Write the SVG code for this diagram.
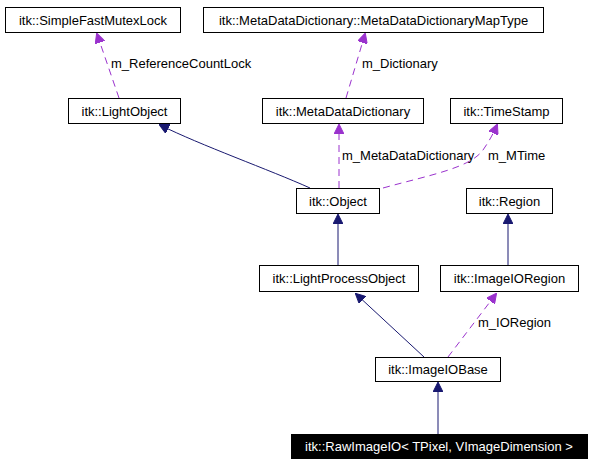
<svg xmlns="http://www.w3.org/2000/svg" width="591" height="464" viewBox="0 0 591 464">
<style>
.box{fill:#fff;stroke:#000;stroke-width:1}
.t{font-family:"Liberation Sans",Arial,sans-serif;font-size:13px;fill:#000;text-anchor:middle}
.lbl{font-family:"Liberation Sans",Arial,sans-serif;font-size:13px;fill:#000}
.inh{fill:none;stroke:#191970;stroke-width:1}
.use{fill:none;stroke:#9a32cd;stroke-width:1;stroke-dasharray:7,5}
</style>
<defs>
<marker id="ah" markerWidth="10" markerHeight="10" refX="9" refY="5" orient="auto" markerUnits="userSpaceOnUse" viewBox="0 0 10 10"><path d="M0,0 L10,5 L0,10 z" fill="#191970" stroke="#191970"/></marker>
<marker id="ap" markerWidth="10" markerHeight="10" refX="9" refY="5" orient="auto" markerUnits="userSpaceOnUse" viewBox="0 0 10 10"><path d="M0,0 L10,5 L0,10 z" fill="#9a32cd" stroke="#9a32cd"/></marker>
</defs>
<rect width="591" height="464" fill="#fff"/>
<g id="connectors">
<path class="use" d="M119,98 L97,34" marker-end="url(#ap)"/>
<text class="lbl" x="111" y="68">m_ReferenceCountLock</text>
<path class="use" d="M346,98 L365,34" marker-end="url(#ap)"/>
<text class="lbl" x="362" y="68">m_Dictionary</text>
<path class="inh" d="M310,188 C270,170 200,145 160,125" marker-end="url(#ah)"/>
<path class="use" d="M339,188 L339,125" marker-end="url(#ap)"/>
<text class="lbl" x="342" y="160">m_MetaDataDictionary</text>
<path class="use" d="M383,188 C430,175 470,168 483,150 C490,140 494,132 497,125" marker-end="url(#ap)"/>
<text class="lbl" x="488" y="160">m_MTime</text>
<path class="inh" d="M338,265 L338,215" marker-end="url(#ah)"/>
<path class="inh" d="M508,265 L508,215" marker-end="url(#ah)"/>
<path class="inh" d="M424,357 L356,294" marker-end="url(#ah)"/>
<path class="use" d="M448,357 L496,294" marker-end="url(#ap)"/>
<text class="lbl" x="478" y="327">m_IORegion</text>
<path class="inh" d="M438,434 L438,383" marker-end="url(#ah)"/>
</g>
<g id="SimpleFastMutexLock"><rect class="box" x="5.5" y="7.5" width="175" height="25"/><text class="t" x="93" y="24.5">itk::SimpleFastMutexLock</text></g>
<g id="MetaDataDictionaryMapType"><rect class="box" x="203.5" y="7.5" width="340" height="25"/><text class="t" x="373.5" y="24.5">itk::MetaDataDictionary::MetaDataDictionaryMapType</text></g>
<g id="LightObject"><rect class="box" x="68.5" y="98.5" width="112" height="25"/><text class="t" x="124.5" y="115.5">itk::LightObject</text></g>
<g id="MetaDataDictionary"><rect class="box" x="262.5" y="98.5" width="161" height="25"/><text class="t" x="343" y="115.5">itk::MetaDataDictionary</text></g>
<g id="TimeStamp"><rect class="box" x="450.5" y="98.5" width="112" height="25"/><text class="t" x="506.5" y="115.5">itk::TimeStamp</text></g>
<g id="Object"><rect class="box" x="296.5" y="188.5" width="83" height="25"/><text class="t" x="338" y="205.5">itk::Object</text></g>
<g id="Region"><rect class="box" x="466.5" y="188.5" width="86" height="25"/><text class="t" x="509.5" y="205.5">itk::Region</text></g>
<g id="LightProcessObject"><rect class="box" x="259.5" y="265.5" width="159" height="26"/><text class="t" x="339" y="283">itk::LightProcessObject</text></g>
<g id="ImageIORegion"><rect class="box" x="440.5" y="265.5" width="138" height="26"/><text class="t" x="509.5" y="283">itk::ImageIORegion</text></g>
<g id="ImageIOBase"><rect class="box" x="375.5" y="357.5" width="125" height="24"/><text class="t" x="438" y="374">itk::ImageIOBase</text></g>
<g id="RawImageIO"><rect x="291" y="434" width="297" height="25" fill="#000"/><text class="t" x="439" y="451" fill="#fff" style="fill:#fff">itk::RawImageIO&lt; TPixel, VImageDimension &gt;</text></g>
</svg>
